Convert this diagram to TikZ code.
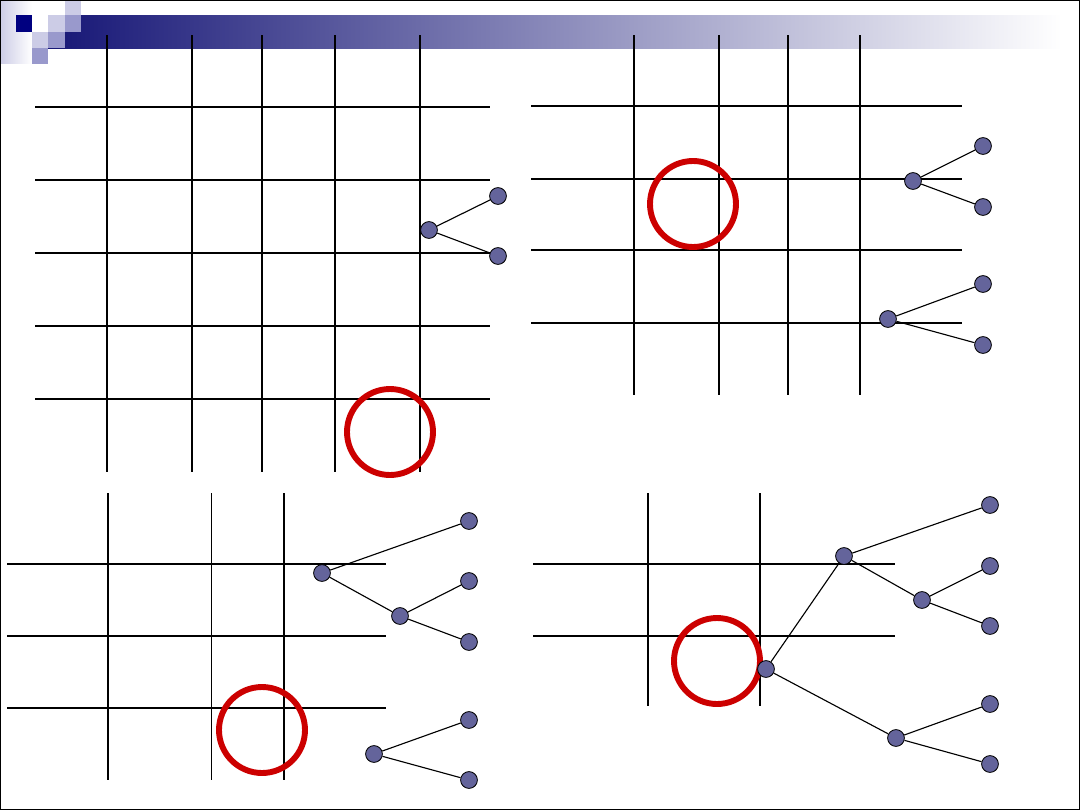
\documentclass[tikz,border=0pt]{standalone}
\usepackage{tikz}
\definecolor{hdnavy}{RGB}{0,0,128}
\definecolor{hdbar}{RGB}{22,22,118}
\definecolor{hdlight}{RGB}{204,204,230}
\definecolor{hdmid}{RGB}{153,153,204}
\definecolor{treefill}{RGB}{100,100,155}
\definecolor{ringred}{RGB}{204,0,0}

\begin{document}
\begin{tikzpicture}[
  x=0.025cm,y=-0.025cm,
  tnode/.style={circle,draw,fill=treefill,minimum size=0.42cm,inner sep=0pt,line width=0.6pt},
  link/.style={line width=0.8pt},
  thickln/.style={line width=1.4pt},
  thinln/.style={line width=0.75pt},
  hairln/.style={line width=0.5pt},
  ring/.style={draw=ringred,line width=4.2pt},
]
  \useasboundingbox (0,0) rectangle (1080,810);

  % header band
  \shade[left color=hdlight,right color=white] (0,0) rectangle (32,63);
  \shade[left color=hdbar,right color=white] (48,15) rectangle (1062,48);
  \fill[hdnavy]  (16,15) rectangle (32,32);
  \fill[hdlight] (65,0)  rectangle (81,15);
  \fill[hdlight] (48,15) rectangle (65,32);
  \fill[hdmid]   (65,15) rectangle (81,32);
  \fill[hdlight] (32,32) rectangle (48,48);
  \fill[hdmid]   (48,32) rectangle (65,48);
  \fill[hdmid]   (32,48) rectangle (48,64);

  % frame
  \draw[thinln] (0.5,0.5) rectangle (1079.5,809.5);

  % top left grid
  \foreach \x in {107,262,420} \draw[thickln] (\x,35) -- (\x,472);
  \foreach \x in {192,335} \draw[thinln] (\x,35) -- (\x,472);
  \foreach \y in {107,180,253} \draw[thickln] (35,\y) -- (490,\y);
  \foreach \y in {326,399} \draw[thinln] (35,\y) -- (490,\y);
  \draw[ring] (390,432) circle[radius=43];

  \node[tnode] (tla) at (429,230) {};
  \node[tnode] (tlb) at (498,196) {};
  \node[tnode] (tlc) at (498,256) {};
  \draw[link] (tla) -- (tlb);
  \draw[link] (tla) -- (tlc);

  % top right grid
  \foreach \x in {719,788,860} \draw[thickln] (\x,35) -- (\x,395);
  \draw[thinln] (634,35) -- (634,395);
  \foreach \y in {179,250} \draw[thickln] (531,\y) -- (962,\y);
  \foreach \y in {106,323} \draw[thinln] (531,\y) -- (962,\y);
  \draw[ring] (693,204) circle[radius=43];

  \node[tnode] (tra) at (913,181) {};
  \node[tnode] (trb) at (983,146) {};
  \node[tnode] (trc) at (983,207) {};
  \node[tnode] (trd) at (888,319) {};
  \node[tnode] (tre) at (983,284) {};
  \node[tnode] (trf) at (983,345) {};
  \draw[link] (tra) -- (trb);
  \draw[link] (tra) -- (trc);
  \draw[link] (trd) -- (tre);
  \draw[link] (trd) -- (trf);

  % bottom left grid
  \draw[thickln] (108,493) -- (108,780);
  \draw[hairln]  (211,493) -- (211,780);
  \draw[thinln]  (284,493) -- (284,780);
  \foreach \y in {564,636} \draw[thickln] (7,\y) -- (386,\y);
  \draw[thinln] (7,708) -- (386,708);
  \draw[ring] (262,730) circle[radius=43];

  \node[tnode] (bla) at (322,573) {};
  \node[tnode] (blb) at (469,521) {};
  \node[tnode] (blc) at (400,616) {};
  \node[tnode] (bld) at (469,581) {};
  \node[tnode] (ble) at (469,642) {};
  \node[tnode] (blf) at (374,754) {};
  \node[tnode] (blg) at (469,720) {};
  \node[tnode] (blh) at (469,780) {};
  \draw[link] (bla) -- (blb);
  \draw[link] (bla) -- (blc);
  \draw[link] (blc) -- (bld);
  \draw[link] (blc) -- (ble);
  \draw[link] (blf) -- (blg);
  \draw[link] (blf) -- (blh);

  % bottom right grid
  \draw[thickln] (648,493) -- (648,706);
  \draw[thinln]  (760,493) -- (760,706);
  \foreach \y in {564,636} \draw[thickln] (533,\y) -- (895,\y);
  \draw[ring] (717,661) circle[radius=43];

  \node[tnode] (bra) at (844,556) {};
  \node[tnode] (brb) at (990,505) {};
  \node[tnode] (brc) at (922,600) {};
  \node[tnode] (brd) at (990,566) {};
  \node[tnode] (bre) at (990,626) {};
  \node[tnode] (brf) at (766,669) {};
  \node[tnode] (brg) at (896,738) {};
  \node[tnode] (brh) at (990,704) {};
  \node[tnode] (bri) at (990,764) {};
  \draw[link] (bra) -- (brb);
  \draw[link] (bra) -- (brc);
  \draw[link] (brc) -- (brd);
  \draw[link] (brc) -- (bre);
  \draw[link] (brf) -- (bra);
  \draw[link] (brf) -- (brg);
  \draw[link] (brg) -- (brh);
  \draw[link] (brg) -- (bri);
\end{tikzpicture}
\end{document}
